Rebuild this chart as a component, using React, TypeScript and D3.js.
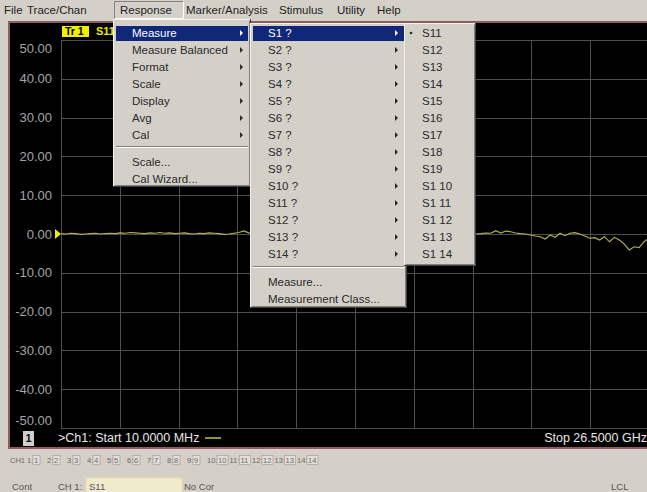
import React from "react"
import * as d3 from "d3"

// analyzer sweep
const startGHz = 0.01
const stopGHz = 26.5
const yTicks = [50, 40, 30, 20, 10, 0, -10, -20, -30, -40, -50]
const traceDb = [
  0.1, 0.0, 0.2, 0.1, -0.1, 0.0, 0.1, 0.2, 0.0, 0.1,
  0.2, 0.1, 0.3, 0.2, 0.4, 0.3, 0.2, 0.1, 0.3, 0.2,
  0.4, 0.2, 0.3, 0.1, 0.2, 0.3, 0.1, 0.0, 0.2, 0.1,
  0.3, 0.2, 0.1, -0.1, 0.0, 0.2, 0.4, 0.8, 0.3,
  0.2, 0.5, 0.3, 0.1, 0.4, 0.6, 0.2, 0.0, 0.3, 0.5,
  0.2, 0.4, 0.7, 0.3, 0.1, 0.2, 0.5, 0.3, 0.0, 0.4,
  0.6, 0.2, 0.3, 0.5, 0.1, -0.2, 0.3, 0.4, 0.2, 0.6,
  0.3, 0.0, 0.2, 0.5, 0.3, 0.1, 0.4, 0.2, -0.1, 0.3,
  0.2, 0.4, 0.1, 0.3, 0.2,
  0.0, 0.1, 0.25, 0.2, 0.85, 0.25, 0.75, 0.6, 0.25, 0.1,
  0.0, -0.25, -0.5, -0.7, -1.3, -0.25, -0.85, 0.2, -0.45, 0.2,
  0.35, 0.0, -0.5, -1.1, -0.95, -1.55, -0.7, -2.0, -0.85, -1.55,
  -2.6, -4.1, -3.3, -3.5, -2.0, -1.0,
]

// menus
const menuBarItems = ["File", "Trace/Chan", "Response", "Marker/Analysis", "Stimulus", "Utility", "Help"]
const responseItems = ["Measure", "Measure Balanced", "Format", "Scale", "Display", "Avg", "Cal"]
const responseExtra = ["Scale...", "Cal Wizard..."]
const measureItems = ["S1 ?", "S2 ?", "S3 ?", "S4 ?", "S5 ?", "S6 ?", "S7 ?", "S8 ?", "S9 ?", "S10 ?", "S11 ?", "S12 ?", "S13 ?", "S14 ?"]
const measureExtra = ["Measure...", "Measurement Class..."]
const s1Items = ["S11", "S12", "S13", "S14", "S15", "S16", "S17", "S18", "S19", "S1 10", "S1 11", "S1 12", "S1 13", "S1 14"]
const channelNums = ["1", "2", "3", "4", "5", "6", "7", "8", "9", "10", "11", "12", "13", "14"]

// layout
const W = 647
const H = 492
const menuBarX = [4, 27, 120, 186, 279, 337, 377]
const FONT = "'Liberation Sans', Arial, sans-serif"
const MENU_BG = "#d4d0c8"
const HILITE = "#10277a"
const row = (i: number) => 33 + i * 17

const x = d3.scaleLinear().domain([startGHz, stopGHz]).range([61, 649])
const y = d3.scaleLinear().domain([-50, 50]).range([428, 40])
const idx = d3.scaleLinear().domain([0, traceDb.length - 1]).range([startGHz, stopGHz])

const traceLine = d3
  .line<number>()
  .x((d, i) => x(idx(i)))
  .y((d) => y(d))

const MenuBox = ({ x0, y0, w, h }: { x0: number; y0: number; w: number; h: number }) => (
  <g>
    <rect x={x0} y={y0} width={w} height={h} fill={MENU_BG} />
    <path d={`M${x0 + 0.5},${y0 + h} V${y0 + 0.5} H${x0 + w}`} stroke="#f4f2ee" fill="none" />
    <path d={`M${x0 + 1.5},${y0 + h - 1.5} H${x0 + w - 1.5} V${y0 + 1.5}`} stroke="#808080" fill="none" />
    <path d={`M${x0},${y0 + h - 0.5} H${x0 + w - 0.5} V${y0}`} stroke="#404040" fill="none" />
  </g>
)

const Arrow = ({ ax, cy, color }: { ax: number; cy: number; color: string }) => (
  <path d={`M${ax},${cy - 3} L${ax + 3},${cy} L${ax},${cy + 3} Z`} fill={color} />
)

const MenuText = ({ tx, cy, label, color = "#2a2a2a" }: { tx: number; cy: number; label: string; color?: string }) => (
  <text x={tx} y={cy} dy="0.35em" fontSize={11.5} fill={color} fontFamily={FONT}>
    {label}
  </text>
)

export default function App() {
  // channel row positions (single digit vs double digit)
  let cx = 27
  const chPos = channelNums.map((n) => {
    const p = cx
    cx += n.length > 1 ? 22.5 : 20
    return p
  })

  return (
    <div style={{ position: "fixed", left: 0, top: 0 }}>
      <svg width={W} height={H} style={{ display: "block" }}>
        <rect width={W} height={H} fill={MENU_BG} />

        {/* screen */}
        <rect x={8} y={21} width={W} height={428} fill="#8e5e5e" />
        <rect x={10} y={23} width={W} height={424} fill="#000" />
        <line x1={8} x2={W} y1={450} y2={450} stroke="#e4cccc" />

        {/* graticule */}
        <g stroke="#4e4e4e" strokeWidth={1}>
          {yTicks.map((t) => (
            <line key={t} x1={61} x2={649} y1={Math.round(y(t)) + 0.5} y2={Math.round(y(t)) + 0.5} />
          ))}
          {d3.range(0, 11).map((k) => {
            const gx = Math.round(x(startGHz + (k * (stopGHz - startGHz)) / 10)) + 0.5
            return <line key={k} x1={gx} x2={gx} y1={40} y2={428} />
          })}
        </g>

        {yTicks.map((t, i) => {
          let ly = y(t)
          if (i === 0) ly += 8
          if (i === yTicks.length - 1) ly -= 8
          return (
            <text key={t} x={52} y={ly} dy="0.35em" textAnchor="end" fontSize={13} fill="#a4a4a4" fontFamily={FONT}>
              {t.toFixed(2)}
            </text>
          )
        })}

        {/* trace */}
        <path d={traceLine(traceDb) || ""} fill="none" stroke="#b4b44c" strokeWidth={1.1} />
        <path d={`M55,${y(0) - 5} L61,${y(0)} L55,${y(0) + 5} Z`} fill="#f0f000" />

        {/* trace label */}
        <rect x={62} y={26} width={27} height={11} fill="#f0f000" />
        <text x={65} y={31.5} dy="0.35em" fontSize={10.5} fontWeight="bold" fill="#000" fontFamily={FONT}>Tr 1</text>
        <text x={96} y={31.5} dy="0.35em" fontSize={11} fontWeight="bold" fill="#e8e800" fontFamily={FONT}>S11</text>

        {/* status bar */}
        <rect x={23} y={431} width={11} height={15} fill="#cfcfcf" />
        <text x={28.5} y={438.5} dy="0.35em" textAnchor="middle" fontSize={11} fontWeight="bold" fill="#111" fontFamily={FONT}>1</text>
        <text x={58} y={438} dy="0.35em" fontSize={12.5} fill="#e6e6e6" fontFamily={FONT}>
          {`>Ch1: Start  ${(startGHz * 1000).toFixed(4)} MHz`}
        </text>
        <line x1={205} x2={221} y1={438} y2={438} stroke="#c8c820" strokeWidth={1.5} />
        <text x={W} y={438} dy="0.35em" textAnchor="end" fontSize={12.5} fill="#e6e6e6" fontFamily={FONT}>
          {`Stop  ${stopGHz.toFixed(4)} GHz`}
        </text>

        {/* channel row */}
        <text x={10} y={460} dy="0.35em" fontSize={7.5} fill="#6a6a6a" fontFamily={FONT}>CH1</text>
        {channelNums.map((n, i) => (
          <g key={n} fontFamily={FONT} fontSize={7.5}>
            <text x={chPos[i]} y={460} dy="0.35em" fill="#6a6a6a">{`${n}:`}</text>
            <rect
              x={chPos[i] + (n.length > 1 ? 10 : 6)}
              y={455.5}
              width={n.length > 1 ? 11 : 7}
              height={9}
              fill="#e2dfd8"
              stroke="#a89090"
              strokeWidth={0.6}
            />
            <text x={chPos[i] + (n.length > 1 ? 11 : 7)} y={460} dy="0.35em" fill="#6a6a6a">{n}</text>
          </g>
        ))}

        {/* bottom status */}
        <g fontFamily={FONT} fontSize={9.5} fill="#555">
          <text x={12} y={487} dy="0.35em">Cont</text>
          <text x={58} y={487} dy="0.35em">CH 1:</text>
          <rect x={86} y={478} width={96} height={18} fill="#efebcb" stroke="#e6e0b0" />
          <text x={89} y={487} dy="0.35em">S11</text>
          <text x={184} y={487} dy="0.35em">No Cor</text>
          <text x={611} y={487} dy="0.35em">LCL</text>
        </g>

        {/* menu bar */}
        <rect x={0} y={0} width={W} height={20} fill={MENU_BG} />
        <path d="M114.5,19 V1.5 H183" stroke="#808080" fill="none" />
        <path d="M114.5,18.5 H183.5 V1.5" stroke="#ffffff" fill="none" />
        {menuBarItems.map((m, i) => (
          <text key={m} x={menuBarX[i]} y={10} dy="0.35em" fontSize={11.5} fill="#1e1e1e" fontFamily={FONT}>
            {m}
          </text>
        ))}

        {/* Response menu */}
        <MenuBox x0={113} y0={19} w={138} h={168} />
        <rect x={116} y={row(0) - 7} width={132} height={15} fill={HILITE} />
        {responseItems.map((m, i) => (
          <g key={m}>
            <MenuText tx={132} cy={row(i)} label={m} color={i === 0 ? "#ffffff" : "#2a2a2a"} />
            <Arrow ax={240} cy={row(i)} color={i === 0 ? "#ffffff" : "#2a2a2a"} />
          </g>
        ))}
        <line x1={116} x2={248} y1={146.5} y2={146.5} stroke="#808080" />
        <line x1={116} x2={248} y1={147.5} y2={147.5} stroke="#ffffff" />
        {responseExtra.map((m, i) => (
          <MenuText key={m} tx={132} cy={162 + i * 17} label={m} />
        ))}

        {/* Measure submenu */}
        <MenuBox x0={250} y0={23} w={157} h={285} />
        <rect x={253} y={row(0) - 7} width={151} height={15} fill={HILITE} />
        {measureItems.map((m, i) => (
          <g key={m}>
            <MenuText tx={268} cy={row(i)} label={m} color={i === 0 ? "#ffffff" : "#2a2a2a"} />
            <Arrow ax={395} cy={row(i)} color={i === 0 ? "#ffffff" : "#2a2a2a"} />
          </g>
        ))}
        <line x1={253} x2={404} y1={266.5} y2={266.5} stroke="#808080" />
        <line x1={253} x2={404} y1={267.5} y2={267.5} stroke="#ffffff" />
        {measureExtra.map((m, i) => (
          <MenuText key={m} tx={268} cy={282 + i * 17} label={m} />
        ))}

        {/* S1 submenu */}
        <MenuBox x0={404} y0={23} w={72} h={243} />
        <circle cx={411} cy={row(0)} r={1.3} fill="#2a2a2a" />
        {s1Items.map((m, i) => (
          <MenuText key={m} tx={422} cy={row(i)} label={m} />
        ))}
      </svg>
    </div>
  )
}
